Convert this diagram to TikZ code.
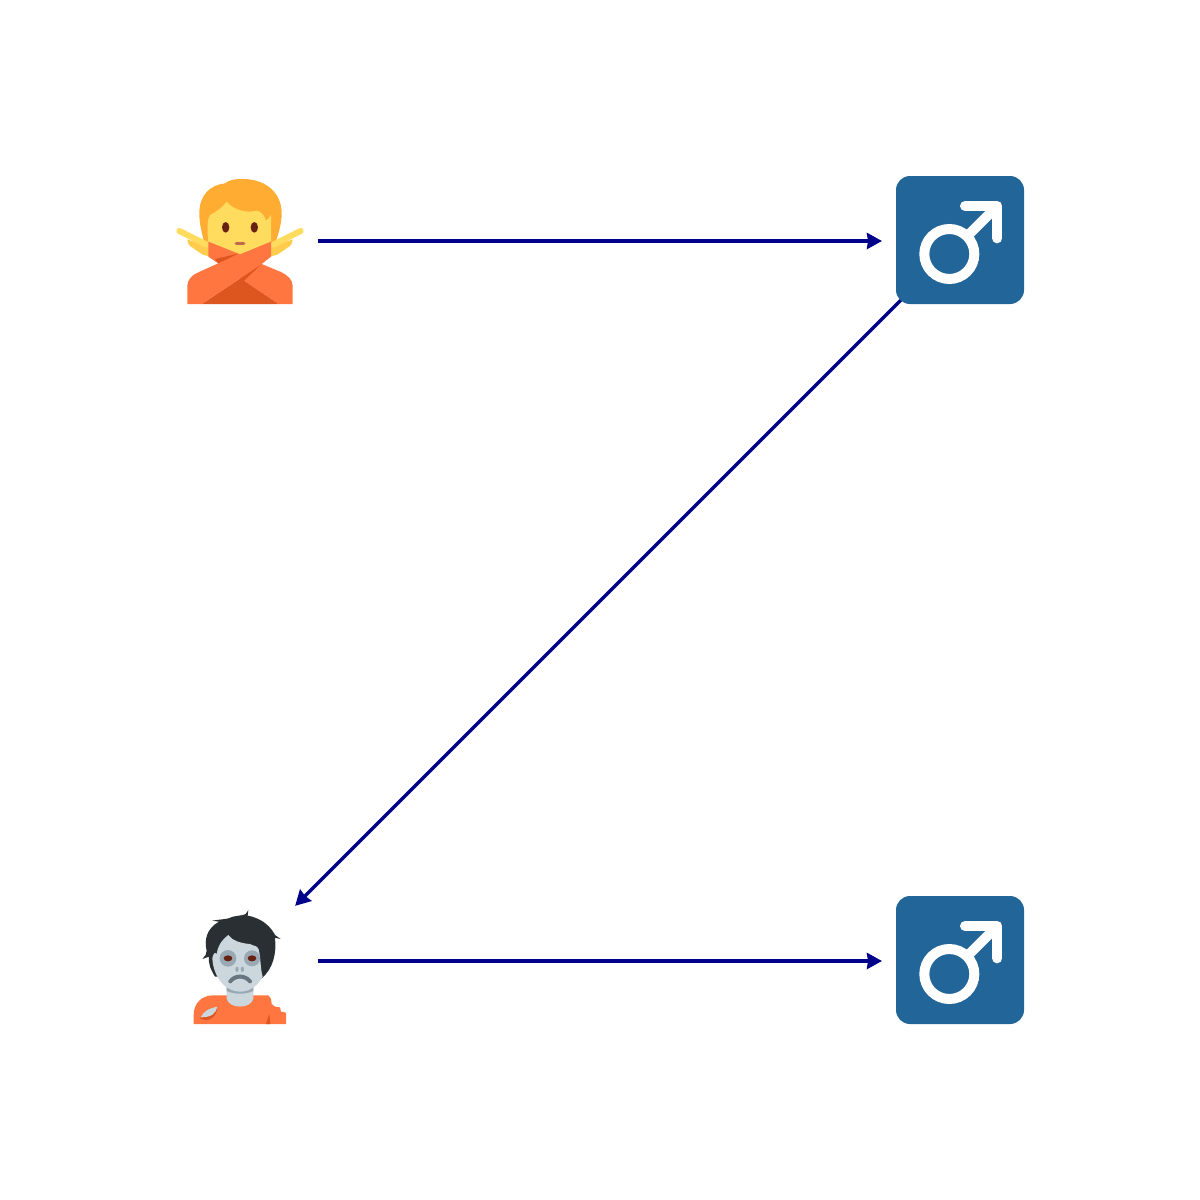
\documentclass[tikz,border=0pt]{standalone}
\usetikzlibrary{arrows.meta}
\definecolor{hairY}{HTML}{FFAC33}
\definecolor{skinY}{HTML}{FFDC5D}
\definecolor{skinD}{HTML}{FFCC4D}
\definecolor{eyeB}{HTML}{662113}
\definecolor{mouthB}{HTML}{C1694F}
\definecolor{shirtL}{HTML}{FF7640}
\definecolor{shirtD}{HTML}{DD551F}
\definecolor{hairK}{HTML}{292F33}
\definecolor{skinZ}{HTML}{CCD6DD}
\definecolor{shadeZ}{HTML}{99AAB5}
\definecolor{mouthZ}{HTML}{66757F}
\definecolor{boxB}{HTML}{226699}
\definecolor{linkB}{HTML}{00008B}
\tikzset{
  emojinode/.style={circle,minimum size=156pt,inner sep=0pt,outer sep=0pt},
  link/.style={draw=linkB,line width=3.4pt,-{Stealth[length=15pt,width=16pt,inset=1pt]}},
}
\newcommand{\maleicon}[1]{%
  \begin{scope}[shift={(#1)}]
    \fill[boxB,rounded corners=14pt] (896,176) rectangle (1024,304);
    \begin{scope}[shift={(860,160)},xscale=1/3,yscale=1/3]
      \draw[white,line width=10pt] (268,282) circle (75);
      \draw[white,line width=10pt] (330,220) -- (412,138);
      \draw[white,line width=10pt,line cap=round,line join=round] (315,138) -- (412,138) -- (412,235);
    \end{scope}
  \end{scope}}
\begin{document}
\begin{tikzpicture}[x=1pt,y=-1pt]
\useasboundingbox[fill=white] (0,0) rectangle (1200,1200);
\node[emojinode] (gesture) at (240,241) {};
\node[emojinode] (maleA) at (960,241) {};
\node[emojinode] (zombie) at (240,961) {};
\node[emojinode] (maleB) at (960,961) {};
\draw[link] (gesture) -- (maleA);
\draw[link] (maleA) -- (zombie);
\draw[link] (zombie) -- (maleB);
% person gesturing no
\begin{scope}[shift={(160,160)},xscale=1/3,yscale=1/3]
  \fill[hairY] (132,245) .. controls (122,205) and (118,185) .. (118,160)
    .. controls (118,105) and (150,75) .. (195,70)
    .. controls (215,55) and (240,57) .. (255,57)
    .. controls (320,60) and (365,100) .. (365,160)
    .. controls (365,190) and (355,225) .. (345,250) -- cycle;
  \fill[skinY] (145,250) .. controls (142,215) and (140,180) .. (150,165)
    .. controls (170,155) and (190,140) .. (200,125)
    .. controls (220,150) and (260,160) .. (292,152)
    .. controls (305,155) and (315,170) .. (318,182)
    .. controls (325,175) and (330,172) .. (333,165) -- (333,250) -- (240,290) -- cycle;
  \fill[eyeB] (197,202) ellipse (11 and 16);
  \fill[eyeB] (283,202) ellipse (11 and 16);
  \draw[mouthB,line width=3.6pt,line cap=round] (229,250.5) -- (251,250.5);
  \fill[skinD] (82,238) -- (152,262) -- (152,290) -- (128,284) -- (90,258) .. controls (84,252) and (82,246) .. (82,238) -- cycle;
  \fill[skinD] (398,238) -- (328,262) -- (328,290) -- (352,284) -- (390,258) .. controls (396,252) and (398,246) .. (398,238) -- cycle;
  \draw[skinY,line width=6pt,line cap=round] (58,213) -- (140,254);
  \draw[skinY,line width=6pt,line cap=round] (422,213) -- (340,254);
  \fill[shirtL] (145,245) -- (145,290) -- (175,310) -- (252,362) -- (355,432) -- (398,432) -- (398,378)
    .. controls (398,360) and (385,348) .. (365,337) -- (305,312) -- (240,283) -- cycle;
  \fill[shirtD] (125,432) -- (305,312) -- (252,362) -- (355,432) -- cycle;
  \fill[shirtD] (165,297) -- (235,281) -- (175,310) -- cycle;
  \fill[shirtL] (333,245) -- (333,290) -- (305,312) -- (125,432) -- (82,432) -- (82,378)
    .. controls (82,360) and (95,345) .. (115,337) -- (175,310) -- (240,283) -- cycle;
\end{scope}
% zombie
\begin{scope}[shift={(160,880)},xscale=1/3,yscale=1/3]
  \fill[hairK] (127,237) .. controls (135,230) and (140,222) .. (140,212)
    .. controls (132,180) and (140,145) .. (177,125)
    -- (157,122) .. controls (180,118) and (195,118) .. (205,115)
    .. controls (225,105) and (250,108) .. (257,102) -- (265,90) -- (263,107)
    .. controls (310,115) and (335,145) .. (345,165) -- (362,177) -- (345,173)
    .. controls (350,220) and (340,265) .. (305,295) -- (165,290)
    .. controls (150,265) and (145,250) .. (147,230) -- cycle;
  \fill[shirtL] (101,432) -- (101,405) .. controls (101,370) and (125,346) .. (160,346)
    -- (200,346) -- (280,346) -- (325,346)
    .. controls (332,350) and (334,358) .. (335,372) -- (345,380) -- (360,382) -- (363,395) -- (378,398) -- (378,432) -- cycle;
  \fill[skinZ] (200,315) -- (200,355) .. controls (205,388) and (275,388) .. (280,355) -- (280,315) -- cycle;
  \fill[shadeZ] (200,315) -- (280,315) -- (280,333) .. controls (255,344) and (225,344) .. (200,333) -- cycle;
  \fill[shirtD] (318,432) .. controls (322,420) and (326,410) .. (328,402) -- (331,432) -- cycle;
  \fill[shirtD] (120,416) .. controls (130,395) and (145,385) .. (172,380) .. controls (170,405) and (160,420) .. (135,420) -- cycle;
  \fill[skinZ] (122,412) .. controls (130,395) and (145,385) .. (172,380) .. controls (168,400) and (155,412) .. (122,412) -- cycle;
  \fill[skinZ] (157,235) .. controls (160,290) and (195,335) .. (240,335)
    .. controls (270,335) and (295,315) .. (308,290) .. controls (300,260) and (303,235) .. (296,208)
    .. controls (290,195) and (285,200) .. (270,192) .. controls (240,190) and (215,180) .. (205,165)
    .. controls (185,180) and (172,200) .. (170,222) .. controls (165,215) and (160,220) .. (157,235) -- cycle;
  \fill[shadeZ] (204,235) circle (25);
  \fill[shadeZ] (276,235) circle (24);
  \fill[eyeB] (204,235) ellipse (13 and 9);
  \fill[eyeB] (276,235) ellipse (13 and 9);
  \fill[shadeZ] (231,268) ellipse (5 and 8);
  \fill[shadeZ] (247,268) ellipse (5 and 8);
  \draw[mouthZ,line width=4pt,line cap=round] (211,304) .. controls (225,285) and (255,285) .. (270,304);
\end{scope}
\maleicon{0,0}
\maleicon{0,720}
\end{tikzpicture}
\end{document}
